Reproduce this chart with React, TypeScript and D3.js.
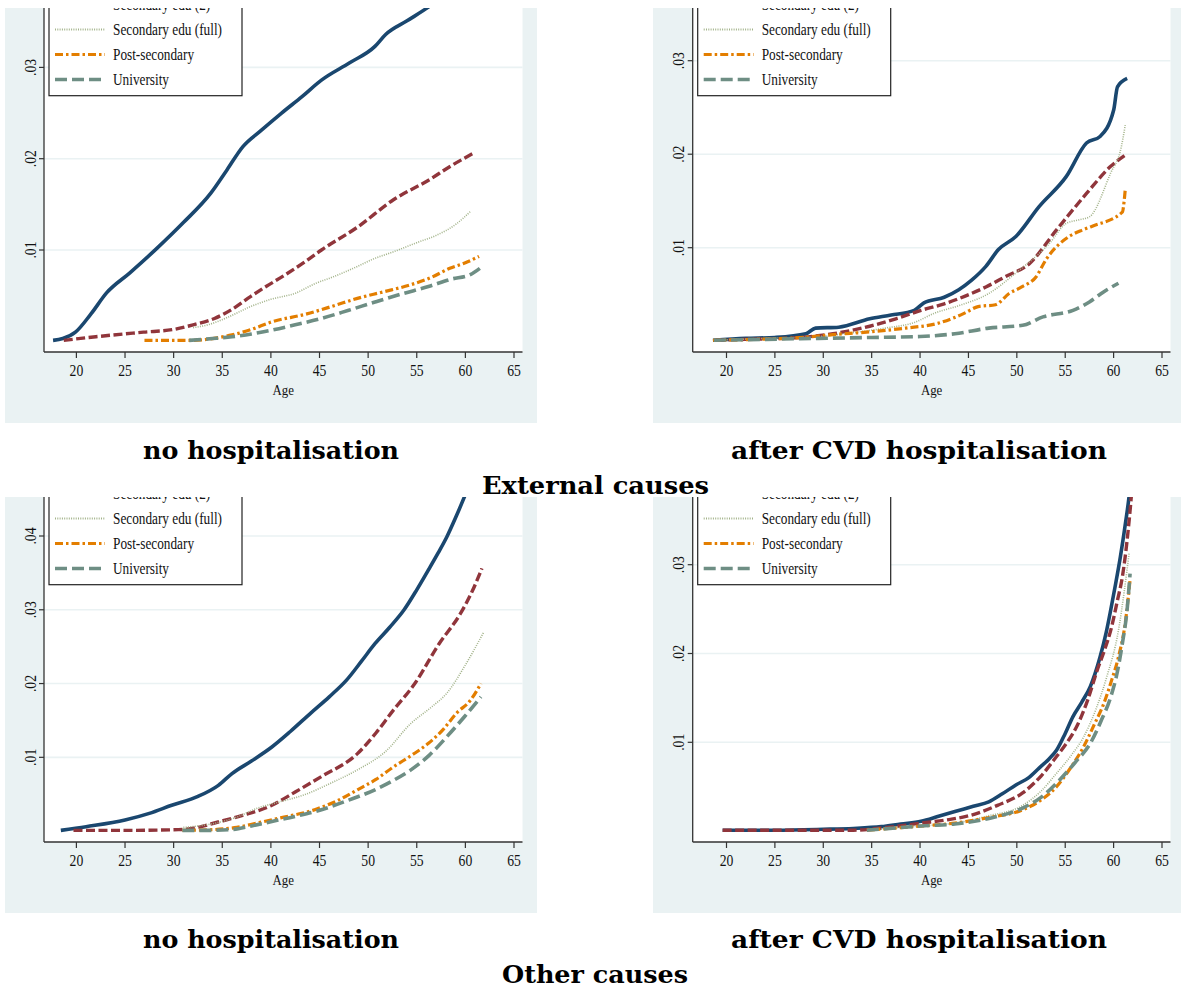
import React from "react";
import * as d3 from "d3";

// ---------------- DATA ----------------
const AGE_TICKS = [20, 25, 30, 35, 40, 45, 50, 55, 60, 65];
const SERIES_NAMES = ["Primary edu", "Secondary edu (2)", "Secondary edu (full)", "Post-secondary", "University"];
const GROUP_TITLES = ["External causes", "Other causes"];
const PANEL_TITLES = ["no hospitalisation", "after CVD hospitalisation"];

const Y_TICKS_EXT_NO = [0.01, 0.02, 0.03];
const Y_TICKS_EXT_CVD = [0.01, 0.02, 0.03];
const Y_TICKS_OTH_NO = [0.01, 0.02, 0.03, 0.04];
const Y_TICKS_OTH_CVD = [0.01, 0.02, 0.03];

// External causes, no hospitalisation
const extNo_primary: [number, number][] = [[17.6,0.0001],[18.6,0.0003],[19.9,0.001],[21.5,0.003],[23.1,0.0053],[25.5,0.0075],[28.3,0.0102],[31,0.013],[33.8,0.0162],[35.5,0.0188],[37.1,0.0213],[39,0.0231],[41.1,0.025],[43.2,0.0268],[45.2,0.0286],[48.1,0.0305],[50.7,0.0323],[51.8,0.0336],[54,0.0351],[56.2,0.0366],[58,0.038],[61.3,0.0405]];
const extNo_sec2: [number, number][] = [[18.7,0.0001],[22,0.0005],[26.9,0.001],[30,0.0013],[32,0.0018],[34.2,0.0025],[36,0.0035],[37.9,0.0049],[39.5,0.006],[41.5,0.0073],[43.5,0.0087],[45.2,0.01],[48.9,0.0125],[52.6,0.0155],[56.3,0.0177],[58.5,0.0192],[61,0.0207]];
const extNo_secFull: [number, number][] = [[32,0.0015],[33.5,0.0018],[35.5,0.0026],[37.9,0.0038],[40,0.0046],[42.6,0.0053],[44.5,0.0063],[46.5,0.0071],[48.9,0.0082],[50.5,0.009],[52.6,0.0098],[55,0.0108],[57,0.0116],[59,0.0128],[60.5,0.0142]];
const extNo_post: [number, number][] = [[27,0.0001],[32,0.0001],[34,0.0003],[36,0.0007],[38,0.0013],[40,0.0021],[43.7,0.003],[46.5,0.0039],[48.9,0.0047],[51.5,0.0054],[54.4,0.0062],[56.5,0.007],[58.4,0.008],[60,0.0086],[61.4,0.0093]];
const extNo_uni: [number, number][] = [[31.6,0.0001],[34,0.0003],[36,0.0005],[38,0.0008],[40,0.0012],[42.5,0.0018],[45.2,0.0025],[48,0.0034],[50.7,0.0043],[53.5,0.0052],[56.2,0.006],[58.5,0.0068],[60.5,0.0073],[61.5,0.008]];

// External causes, after CVD hospitalisation
const extCvd_primary: [number, number][] = [[18.6,0.0001],[22,0.0003],[25,0.0004],[28.2,0.0008],[29.2,0.0014],[31.6,0.0015],[34.8,0.0024],[37,0.0028],[39.4,0.0033],[40.4,0.0041],[42.5,0.0047],[44,0.0055],[45.3,0.0065],[46.8,0.008],[48.1,0.0098],[49.9,0.0112],[52.3,0.0144],[55.1,0.0176],[57.2,0.0212],[58.6,0.0219],[60,0.0247],[60.4,0.0272],[61.4,0.0281]];
const extCvd_sec2: [number, number][] = [[18.9,0.0001],[22,0.0002],[26.1,0.0003],[31,0.0008],[34.8,0.0016],[37.5,0.0024],[40.1,0.0033],[42.5,0.004],[44.6,0.0048],[46.8,0.0058],[48.8,0.0069],[51.3,0.0083],[54.1,0.0119],[57.2,0.0158],[59.7,0.0187],[61.2,0.0199]];
const extCvd_secFull: [number, number][] = [[18.6,0.0001],[24,0.0003],[29.5,0.0005],[33,0.0009],[36.4,0.0014],[39.4,0.002],[41.5,0.003],[44,0.0038],[47.1,0.0051],[49.9,0.0073],[53.4,0.0105],[55.1,0.0126],[56.5,0.013],[57.5,0.0133],[59.7,0.018],[60.8,0.0208],[61.2,0.0231]];
const extCvd_post: [number, number][] = [[18.6,0.0001],[23,0.0002],[27.9,0.0004],[31,0.0007],[34.8,0.001],[38.5,0.0014],[41.8,0.0019],[43.5,0.0025],[44.6,0.003],[46,0.0037],[47.8,0.0039],[49.2,0.0051],[50.5,0.0058],[52,0.0069],[53,0.0087],[55.4,0.0112],[56.8,0.0119],[57.8,0.0123],[60.9,0.0138],[61.1,0.0151],[61.2,0.0162]];
const extCvd_uni: [number, number][] = [[18.7,0.0001],[24,0.0002],[29.5,0.0003],[35,0.0004],[40,0.0005],[43.6,0.0008],[47.1,0.0014],[50.6,0.0017],[52.7,0.0026],[55.8,0.0033],[57.5,0.0042],[59,0.0053],[60.5,0.0062]];

// Other causes, no hospitalisation
const othNo_primary: [number, number][] = [[18.4,0.0001],[21,0.0006],[25,0.0015],[27.5,0.0024],[29.8,0.0035],[32.5,0.0047],[34.6,0.0062],[36,0.0078],[38,0.0095],[40.1,0.0114],[42,0.0135],[44.1,0.016],[46,0.0182],[47.8,0.0205],[49.3,0.023],[50.7,0.0254],[52.2,0.0276],[53.7,0.03],[55,0.0327],[56.2,0.0354],[57.2,0.0377],[58.1,0.0399],[59,0.0425],[59.9,0.0453],[61,0.049]];
const othNo_sec2: [number, number][] = [[19.7,0.0001],[25,0.0001],[30.5,0.0002],[32.5,0.0005],[34.2,0.0011],[37,0.0021],[40.1,0.0035],[42.5,0.0053],[45.2,0.0074],[48.9,0.0105],[50.8,0.0133],[52.6,0.0164],[54.8,0.02],[57.3,0.0254],[59.5,0.0295],[60.7,0.0325],[61.7,0.0356]];
const othNo_secFull: [number, number][] = [[31,0.0005],[34,0.001],[36.5,0.0019],[38.6,0.0031],[41,0.004],[43.4,0.0049],[46,0.0064],[48.9,0.0083],[51.8,0.0108],[54.4,0.0146],[56.5,0.0168],[58.1,0.0187],[59.9,0.0223],[61.9,0.027]];
const othNo_post: [number, number][] = [[30.9,0.0001],[34,0.0002],[36.5,0.0005],[38.6,0.0011],[41,0.0018],[44.5,0.0029],[46.8,0.0041],[48.9,0.0056],[50.8,0.007],[52.6,0.0087],[54.5,0.0103],[56.2,0.0119],[57.8,0.0139],[59.1,0.016],[60.5,0.0177],[61.6,0.02]];
const othNo_uni: [number, number][] = [[30.9,0.0001],[33.5,0.0001],[36,0.0002],[38,0.0007],[40.1,0.0013],[42.5,0.002],[45.2,0.0029],[48,0.0042],[50.7,0.0056],[52.5,0.0068],[54.4,0.0083],[56.3,0.0103],[58.1,0.0128],[59.9,0.0155],[61.6,0.0182]];

// Other causes, after CVD hospitalisation
const othCvd_primary: [number, number][] = [[19.6,0.0001],[25,0.0001],[30,0.0002],[33.1,0.0003],[36,0.0005],[38,0.0008],[40.1,0.0011],[42,0.0017],[43.6,0.0022],[45.5,0.0028],[47.1,0.0033],[48.5,0.0042],[49.9,0.0052],[51.2,0.006],[52.3,0.0071],[53.3,0.0081],[54.1,0.0091],[55,0.011],[55.8,0.0129],[56.7,0.0145],[57.6,0.0163],[58.6,0.0196],[59.2,0.0222],[59.7,0.0249],[60.2,0.0278],[60.7,0.0309],[61.2,0.0345],[61.6,0.0377],[61.9,0.041]];
const othCvd_sec2: [number, number][] = [[19.6,0.0001],[25,0.0001],[33.1,0.0001],[36.5,0.0004],[40.1,0.0009],[43,0.0013],[45.3,0.0018],[48,0.0029],[50.6,0.0043],[52.5,0.0062],[54.1,0.0084],[55.2,0.01],[56.2,0.0118],[57.3,0.0147],[58.3,0.0181],[59.1,0.0205],[59.7,0.0226],[60.4,0.026],[60.9,0.0286],[61.4,0.0328],[61.8,0.0373],[62,0.04]];
const othCvd_secFull: [number, number][] = [[34.8,0.0001],[38,0.0004],[40.5,0.0006],[43.6,0.0009],[47,0.0017],[50.6,0.0029],[52.5,0.0045],[54.1,0.0065],[55.6,0.0085],[56.9,0.0106],[58.2,0.0138],[59.3,0.0174],[60.5,0.0226],[61.1,0.027],[61.6,0.0313]];
const othCvd_post: [number, number][] = [[34.5,0.0001],[38,0.0004],[40.5,0.0006],[43.6,0.0009],[47,0.0015],[50.6,0.0024],[52.5,0.0035],[54.1,0.005],[55.6,0.0072],[56.9,0.0095],[58,0.012],[59,0.0144],[59.8,0.017],[60.5,0.0196],[61.2,0.0234],[61.7,0.0283]];
const othCvd_uni: [number, number][] = [[34.5,0.0001],[38,0.0004],[40.5,0.0006],[43.6,0.0008],[47,0.0014],[50.6,0.0026],[52.5,0.0038],[54.1,0.0054],[56,0.0077],[57.6,0.0099],[58.7,0.0124],[59.7,0.0151],[60.4,0.018],[60.9,0.0211],[61.4,0.025],[61.7,0.029]];

// ---------------- STYLE / LAYOUT ----------------
const STYLES = [
  { color: "#1a476f", width: 3.6, dash: undefined as string | undefined },
  { color: "#90353b", width: 3.4, dash: "9 3.5" },
  { color: "#a3b38a", width: 1.6, dash: "1 1.3" },
  { color: "#e37e00", width: 3.2, dash: "8 3 2.5 3" },
  { color: "#6e8e84", width: 3.6, dash: "12 5" },
];

const BG = "#eaf2f3";
const SERIF = "'Liberation Serif', 'Times New Roman', serif";

type Panel = {
  id: string;
  bg: [number, number, number, number]; // x0,y0,x1,y1
  plotL: number; plotR: number; axisY: number;
  x20: number; x65: number;
  yZero: number; yTopTick: number; yTopPx: number;
  yTicks: number[];
  series: [number, number][][];
};

const PANELS: Panel[] = [
  { id: "p1", bg: [5, 8, 537, 423], plotL: 44, plotR: 522.5, axisY: 352, x20: 76.4, x65: 514,
    yZero: 341.3, yTopTick: 0.03, yTopPx: 67.4, yTicks: Y_TICKS_EXT_NO,
    series: [extNo_primary, extNo_sec2, extNo_secFull, extNo_post, extNo_uni] },
  { id: "p2", bg: [653, 8, 1181, 423], plotL: 692.7, plotR: 1170.5, axisY: 352, x20: 726.5, x65: 1162,
    yZero: 341.2, yTopTick: 0.03, yTopPx: 60.7, yTicks: Y_TICKS_EXT_CVD,
    series: [extCvd_primary, extCvd_sec2, extCvd_secFull, extCvd_post, extCvd_uni] },
  { id: "p3", bg: [5, 497, 537, 913], plotL: 44, plotR: 522.5, axisY: 842, x20: 76.4, x65: 514,
    yZero: 831.1, yTopTick: 0.04, yTopPx: 536, yTicks: Y_TICKS_OTH_NO,
    series: [othNo_primary, othNo_sec2, othNo_secFull, othNo_post, othNo_uni] },
  { id: "p4", bg: [653, 497, 1181, 913], plotL: 692.7, plotR: 1170.5, axisY: 842, x20: 726.5, x65: 1162,
    yZero: 831.1, yTopTick: 0.03, yTopPx: 564.7, yTicks: Y_TICKS_OTH_CVD,
    series: [othCvd_primary, othCvd_sec2, othCvd_secFull, othCvd_post, othCvd_uni] },
];

const fmtY = (v: number) => d3.format(".2f")(v).replace(/^0/, "");

function PanelView({ p }: { p: Panel }) {
  const x = d3.scaleLinear().domain([20, 65]).range([p.x20, p.x65]);
  const y = d3.scaleLinear().domain([0, p.yTopTick]).range([p.yZero, p.yTopPx]);
  const line = d3.line<[number, number]>().x(d => x(d[0])).y(d => y(d[1])).curve(d3.curveMonotoneX);
  const [bx0, by0, bx1, by1] = p.bg;
  const top = by0;
  const legL = p.plotL + 5;
  const legR = p.plotL + 198;
  const legBottom = top + 87.7;
  const baseRel = [-23, 2, 27, 52, 77];
  const sx = 0.83;
  const midX = (p.plotL + p.plotR) / 2;
  return (
    <g>
      <defs>
        <clipPath id={`bg-${p.id}`}><rect x={bx0} y={by0} width={bx1 - bx0} height={by1 - by0} /></clipPath>
        <clipPath id={`pl-${p.id}`}><rect x={p.plotL} y={by0} width={p.plotR - p.plotL} height={p.axisY - by0} /></clipPath>
      </defs>
      <rect x={bx0} y={by0} width={bx1 - bx0} height={by1 - by0} fill={BG} />
      <g clipPath={`url(#bg-${p.id})`}>
        <rect x={p.plotL} y={by0 - 50} width={p.plotR - p.plotL} height={p.axisY - by0 + 50} fill="#fff" />
        {p.yTicks.map(t => (
          <line key={t} x1={p.plotL} x2={p.plotR} y1={y(t)} y2={y(t)} stroke={BG} strokeWidth={1.6} />
        ))}
        <g clipPath={`url(#pl-${p.id})`}>
          {p.series.map((s, i) => (
            <path key={i} d={line(s) || ""} fill="none" stroke={STYLES[i].color} strokeWidth={STYLES[i].width}
              strokeDasharray={STYLES[i].dash} strokeLinejoin="round" />
          ))}
        </g>
        {/* axes */}
        <line x1={p.plotL} x2={p.plotL} y1={by0 - 10} y2={p.axisY} stroke="#333" strokeWidth={1.3} />
        <line x1={p.plotL} x2={p.plotR} y1={p.axisY} y2={p.axisY} stroke="#333" strokeWidth={1.3} />
        {p.yTicks.map(t => (
          <g key={t}>
            <line x1={p.plotL - 5} x2={p.plotL} y1={y(t)} y2={y(t)} stroke="#333" strokeWidth={1.2} />
            <text transform={`translate(${p.plotL - 8.5},${y(t)}) rotate(-90) scale(${sx},1)`} textAnchor="middle"
              fontFamily={SERIF} fontSize={16.5} fill="#111">{fmtY(t)}</text>
          </g>
        ))}
        {AGE_TICKS.map(t => (
          <g key={t}>
            <line x1={x(t)} x2={x(t)} y1={p.axisY} y2={p.axisY + 6} stroke="#333" strokeWidth={1.2} />
            <text transform={`translate(${x(t)},${p.axisY + 24}) scale(${sx},1)`} textAnchor="middle"
              fontFamily={SERIF} fontSize={16.5} fill="#111">{t}</text>
          </g>
        ))}
        <text transform={`translate(${midX},${p.axisY + 43}) scale(${sx},1)`} textAnchor="middle"
          fontFamily={SERIF} fontSize={15.5} fill="#111">Age</text>
        {/* legend */}
        <rect x={legL} y={top - 150} width={legR - legL} height={legBottom - top + 150} fill="#fff" stroke="#222" strokeWidth={1.2} />
        {SERIES_NAMES.map((name, i) => {
          const b = top + baseRel[i];
          const st = STYLES[i];
          return (
            <g key={name}>
              <line x1={p.plotL + 11} x2={p.plotL + 61} y1={b - 5.5} y2={b - 5.5} stroke={st.color}
                strokeWidth={i === 2 ? 1.8 : st.width} strokeDasharray={st.dash} />
              <text transform={`translate(${p.plotL + 69},${b}) scale(${sx},1)`} fontFamily={SERIF} fontSize={16} fill="#111">{name}</text>
            </g>
          );
        })}
      </g>
    </g>
  );
}

export default function App() {
  const titleFont = "'DejaVu Serif', serif";
  return (
    <svg width={1181} height={992} style={{ position: "absolute", left: 0, top: 0, background: "#fff" }}>
      <rect x={0} y={0} width={1181} height={992} fill="#fff" />
      {PANELS.map(p => <PanelView key={p.id} p={p} />)}
      <text x={271} y={459} textAnchor="middle" fontFamily={titleFont} fontWeight="bold" fontSize={25}
        textLength={256} lengthAdjust="spacingAndGlyphs">{PANEL_TITLES[0]}</text>
      <text x={919} y={459} textAnchor="middle" fontFamily={titleFont} fontWeight="bold" fontSize={25}
        textLength={376} lengthAdjust="spacingAndGlyphs">{PANEL_TITLES[1]}</text>
      <text x={595.5} y={494} textAnchor="middle" fontFamily={titleFont} fontWeight="bold" fontSize={25}
        textLength={227} lengthAdjust="spacingAndGlyphs">{GROUP_TITLES[0]}</text>
      <text x={271} y={948} textAnchor="middle" fontFamily={titleFont} fontWeight="bold" fontSize={25}
        textLength={256} lengthAdjust="spacingAndGlyphs">{PANEL_TITLES[0]}</text>
      <text x={919} y={948} textAnchor="middle" fontFamily={titleFont} fontWeight="bold" fontSize={25}
        textLength={376} lengthAdjust="spacingAndGlyphs">{PANEL_TITLES[1]}</text>
      <text x={595} y={983} textAnchor="middle" fontFamily={titleFont} fontWeight="bold" fontSize={25}
        textLength={186} lengthAdjust="spacingAndGlyphs">{GROUP_TITLES[1]}</text>
    </svg>
  );
}
